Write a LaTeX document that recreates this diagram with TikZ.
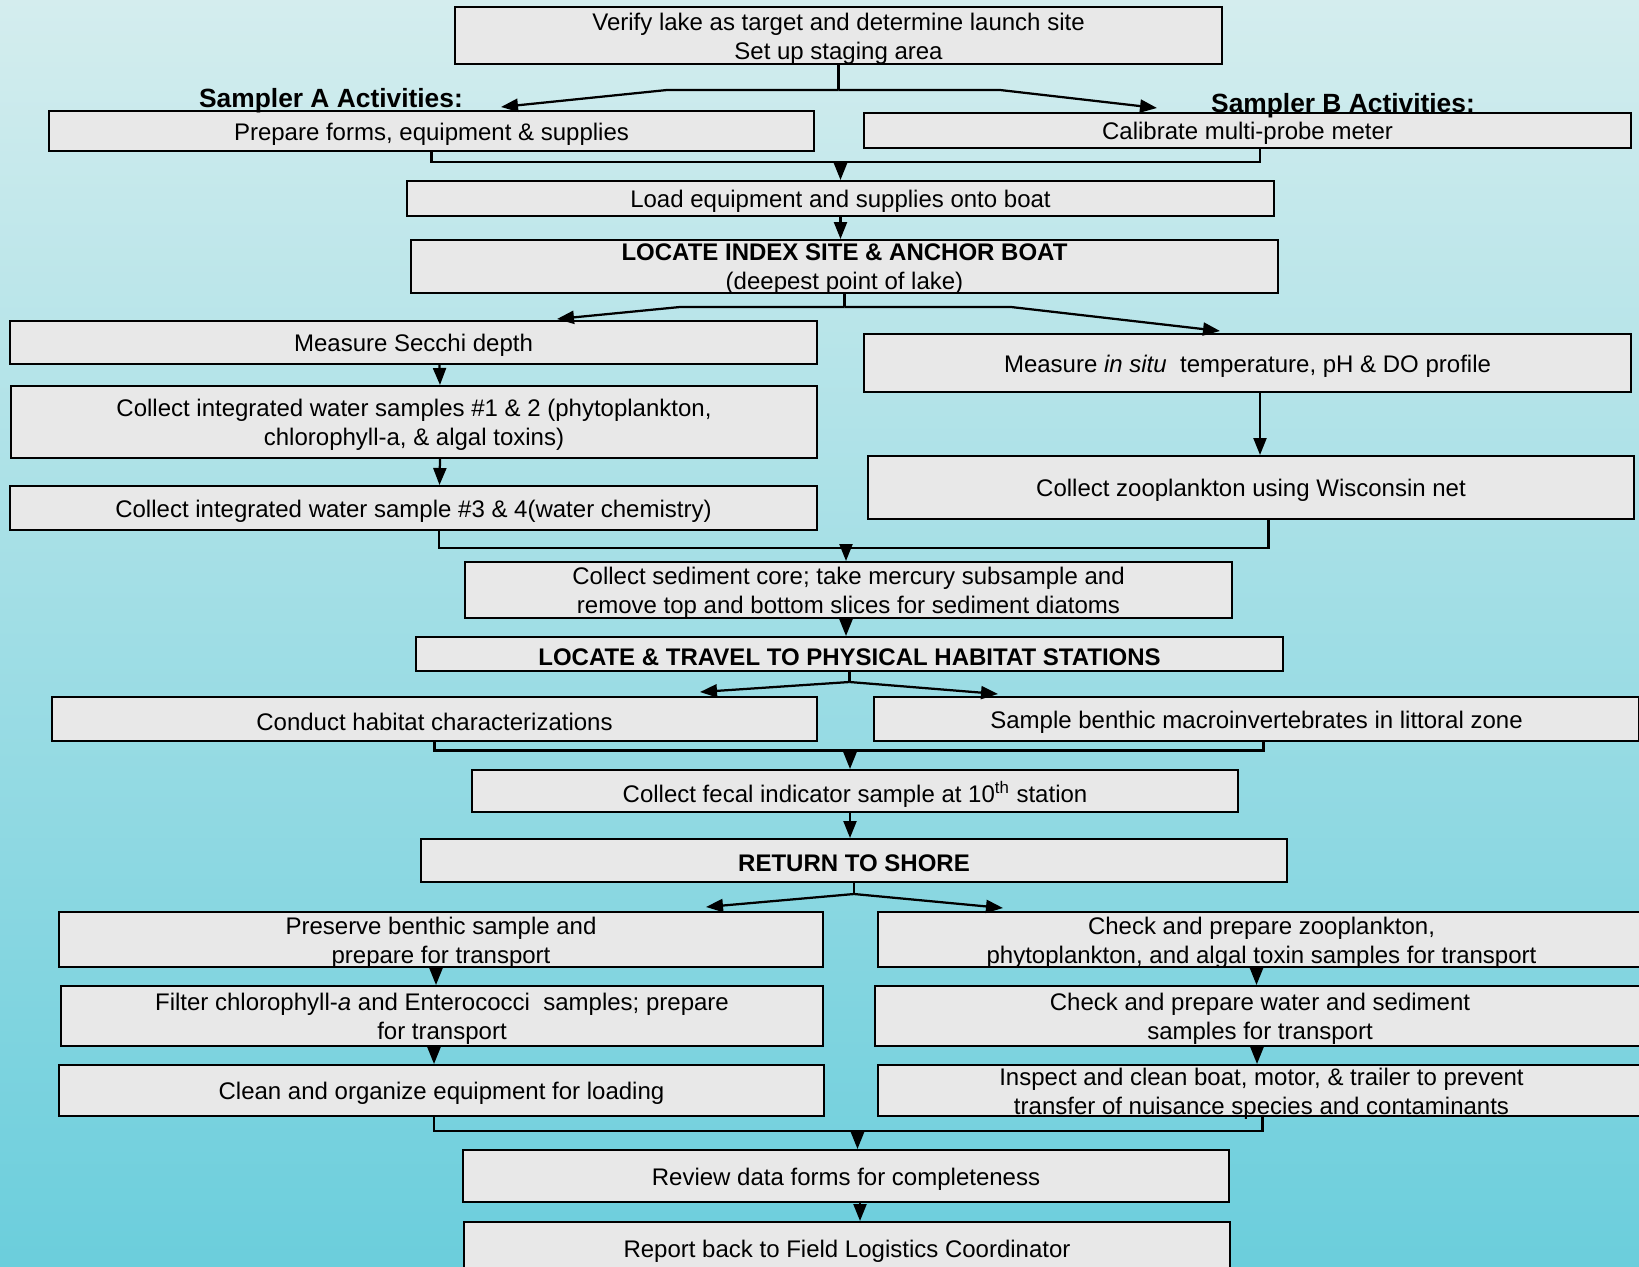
\documentclass[tikz,border=0pt]{standalone}
\usepackage{fontspec}
\setmainfont{Liberation Sans}
\usepackage{tikz}
\usetikzlibrary{arrows.meta,calc}
\definecolor{cinza}{HTML}{E8E8E8}
\definecolor{ceutopo}{HTML}{D4EDEE}
\definecolor{ceumeio}{HTML}{A6DCE6}
\definecolor{ceubase}{HTML}{6BCEDC}
\tikzstyle{caixa}=[draw=black, fill=cinza, line width=0.4mm, inner sep=0]
\tikzstyle{texto}=[align=center, inner sep=0, yshift=-0.6mm, font=\fontsize{13.66}{16.5}\selectfont]
\tikzstyle{titulo}=[inner sep=0, anchor=base, font=\fontsize{15}{18}\selectfont\bfseries]
\tikzstyle{liga}=[line width=0.45mm]
\tikzstyle{seta}=[liga, -{Triangle[length=3.4mm,width=2.6mm]}]

\begin{document}
\begin{tikzpicture}[x=0.2mm, y=-0.2mm]
			\shade[top color=ceutopo, middle color=ceumeio, bottom color=ceubase] (0,0) rectangle (1639,1266);
			\useasboundingbox (0,0) rectangle (1639,1266);
			% caixas
			\node[caixa, minimum width=153.4mm, minimum height=11.4mm] (verify) at (838.5,35.5) {};
			\node[caixa, minimum width=153mm, minimum height=8mm] (prep) at (431.5,131) {};
			\node[caixa, minimum width=153.4mm, minimum height=7mm] (calib) at (1247.5,130.5) {};
			\node[caixa, minimum width=173.4mm, minimum height=7mm] (load) at (840.5,198.5) {};
			\node[caixa, minimum width=173.4mm, minimum height=10.6mm] (locidx) at (844.5,266.5) {};
			\node[caixa, minimum width=161.4mm, minimum height=8.6mm] (secchi) at (413.5,342.5) {};
			\node[caixa, minimum width=161.2mm, minimum height=14.4mm] (colA) at (414,422) {};
			\node[caixa, minimum width=161.4mm, minimum height=8.8mm] (colB) at (413.5,508) {};
			\node[caixa, minimum width=153.4mm, minimum height=11.6mm] (insitu) at (1247.5,363) {};
			\node[caixa, minimum width=153.2mm, minimum height=12.6mm] (zoo) at (1251,487.5) {};
			\node[caixa, minimum width=153.4mm, minimum height=11.2mm] (sed) at (848.5,590) {};
			\node[caixa, minimum width=173.4mm, minimum height=6.8mm] (locst) at (849.5,654) {};
			\node[caixa, minimum width=153mm, minimum height=8.8mm] (habit) at (434.5,719) {};
			\node[caixa, minimum width=153mm, minimum height=8.8mm] (bent) at (1256.5,719) {};
			\node[caixa, minimum width=153.2mm, minimum height=8.4mm] (fecal) at (855,791) {};
			\node[caixa, minimum width=173.2mm, minimum height=8.6mm] (ret) at (854,860.5) {};
			\node[caixa, minimum width=152.8mm, minimum height=11mm] (pres) at (441,939.5) {};
			\node[caixa, minimum width=153.4mm, minimum height=11mm] (chkzoo) at (1261.5,939.5) {};
			\node[caixa, minimum width=152.4mm, minimum height=12mm] (filt) at (442,1016) {};
			\node[caixa, minimum width=154mm, minimum height=12mm] (chkwat) at (1260,1016) {};
			\node[caixa, minimum width=153mm, minimum height=10.2mm] (clean) at (441.5,1090.5) {};
			\node[caixa, minimum width=153.4mm, minimum height=10.2mm] (insp) at (1261.5,1090.5) {};
			\node[caixa, minimum width=153.2mm, minimum height=10.4mm] (review) at (846,1176) {};
			\node[caixa, minimum width=153.2mm, minimum height=10.6mm] (report) at (847,1248.5) {};
			% textos
			\node[texto] at (verify) {Verify lake as target and determine launch site\\Set up staging area};
			\node[texto] at (prep) {Prepare forms, equipment \& supplies};
			\node[texto] at (calib) {Calibrate multi-probe meter};
			\node[texto] at (load) {Load equipment and supplies onto boat};
			\node[texto] at (locidx) {\textbf{LOCATE INDEX SITE \& ANCHOR BOAT}\\(deepest point of lake)};
			\node[texto] at (secchi) {Measure Secchi depth};
			\node[texto] at (colA) {Collect integrated water samples \#1 \& 2 (phytoplankton,\\chlorophyll-a, \& algal toxins)};
			\node[texto] at (colB) {Collect integrated water sample \#3 \& 4(water chemistry)};
			\node[texto] at (insitu) {Measure \textit{in situ}~ temperature, pH \& DO profile};
			\node[texto] at (zoo) {Collect zooplankton using Wisconsin net};
			\node[texto] at (sed) {Collect sediment core; take mercury subsample and\\remove top and bottom slices for sediment diatoms};
			\node[texto] at (locst) {\textbf{LOCATE \& TRAVEL TO PHYSICAL HABITAT STATIONS}};
			\node[texto] at (habit) {Conduct habitat characterizations};
			\node[texto] at (bent) {Sample benthic macroinvertebrates in littoral zone};
			\node[texto] at (fecal) {Collect fecal indicator sample at 10\textsuperscript{th} station};
			\node[texto] at (ret) {\textbf{RETURN TO SHORE}};
			\node[texto] at (pres) {Preserve benthic sample and\\prepare for transport};
			\node[texto] at (chkzoo) {Check and prepare zooplankton,\\phytoplankton, and algal toxin samples for transport};
			\node[texto] at (filt) {Filter chlorophyll-\textit{a} and Enterococci~ samples; prepare\\for transport};
			\node[texto] at (chkwat) {Check and prepare water and sediment\\samples for transport};
			\node[texto] at (clean) {Clean and organize equipment for loading};
			\node[texto] at (insp) {Inspect and clean boat, motor, \& trailer to prevent\\transfer of nuisance species and contaminants};
			\node[texto] at (review) {Review data forms for completeness};
			\node[texto] at (report) {Report back to Field Logistics Coordinator};
			\node[titulo] (samplerA) at (331,108) {Sampler A Activities:};
			\node[titulo] (samplerB) at (1343,112) {Sampler B Activities:};
			% ligacoes
			\coordinate (g1) at (838.5,90);
			\coordinate (g1a) at (667,90);
			\coordinate (g1b) at (1000,90);
			\draw[liga] (verify.south) -- (g1);
			\draw[seta] (g1) -- (g1a) -- ($(prep.north)+(69.5,-3)$);
			\draw[seta] (g1) -- (g1b) -- ($(calib.north)+(-90.5,-4)$);
			\coordinate (j1) at (840.5,162);
			\draw[liga] (prep.south) |- (j1) -| ([xshift=2.5mm]calib.south);
			\draw[seta] (j1) -- (load.north);
			\draw[seta] (load.south) -- (load.south |- locidx.north);
			\coordinate (g2) at (844.5,307);
			\coordinate (g2a) at (680,307);
			\coordinate (g2b) at (1011,307);
			\draw[liga] (locidx.south) -- (g2);
			\draw[seta] (g2) -- (g2a) -- ($(secchi.north)+(143.5,-1)$);
			\draw[seta] (g2) -- (g2b) -- ($(insitu.north)+(-27.5,-2)$);
			\draw[seta] ([xshift=5.2mm]secchi.south) -- ([xshift=5.2mm]colA.north);
			\draw[seta] ([xshift=5.2mm]colA.south) -- ([xshift=5.2mm]colB.north);
			\draw[seta] ([xshift=2.5mm]insitu.south) -- ([xshift=2.5mm]insitu.south |- zoo.north);
			\coordinate (j2) at (846,548);
			\draw[liga] ([xshift=5.1mm]colB.south) |- (j2) -| ([xshift=3.5mm]zoo.south);
			\draw[seta] (j2) -- (j2 |- sed.north);
			\draw[seta] ([xshift=-0.5mm]sed.south) -- ([xshift=-0.5mm]sed.south |- locst.north);
			\coordinate (g3) at (849.5,682);
			\draw[liga] (locst.south) -- (g3);
			\draw[seta] (g3) -- ($(habit.north)+(265.5,-4)$);
			\draw[seta] (g3) -- ($(bent.north)+(-258.5,-2)$);
			\coordinate (j3) at (850,750.5);
			\draw[liga] (habit.south) |- (j3) -| ([xshift=1.4mm]bent.south);
			\draw[seta] (j3) -- (j3 |- fecal.north);
			\draw[seta] ([xshift=-1mm]fecal.south) -- ([xshift=-1mm]fecal.south |- ret.north);
			\coordinate (g4) at (854,894);
			\draw[liga] (ret.south) -- (g4);
			\draw[seta] (g4) -- ($(pres.north)+(265,-4)$);
			\draw[seta] (g4) -- ($(chkzoo.north)+(-258.5,-3)$);
			\draw[seta] ([xshift=-1mm]pres.south) -- ([xshift=-1mm]pres.south |- filt.north);
			\draw[seta] ([xshift=-1mm]chkzoo.south) -- ([xshift=-1mm]chkzoo.south |- chkwat.north);
			\draw[seta] ([xshift=-1.6mm]filt.south) -- ([xshift=-1.6mm]filt.south |- clean.north);
			\draw[seta] ([xshift=-0.6mm]chkwat.south) -- ([xshift=-0.6mm]chkwat.south |- insp.north);
			\coordinate (j4) at (857.5,1130.7);
			\draw[liga] ([xshift=-1.5mm]clean.south) |- (j4) -| ([xshift=0.2mm]insp.south);
			\draw[seta] (j4) -- (j4 |- review.north);
			\draw[seta] ([xshift=2.8mm]review.south) -- ([xshift=2.8mm]review.south |- report.north);
		\end{tikzpicture}
\end{document}
